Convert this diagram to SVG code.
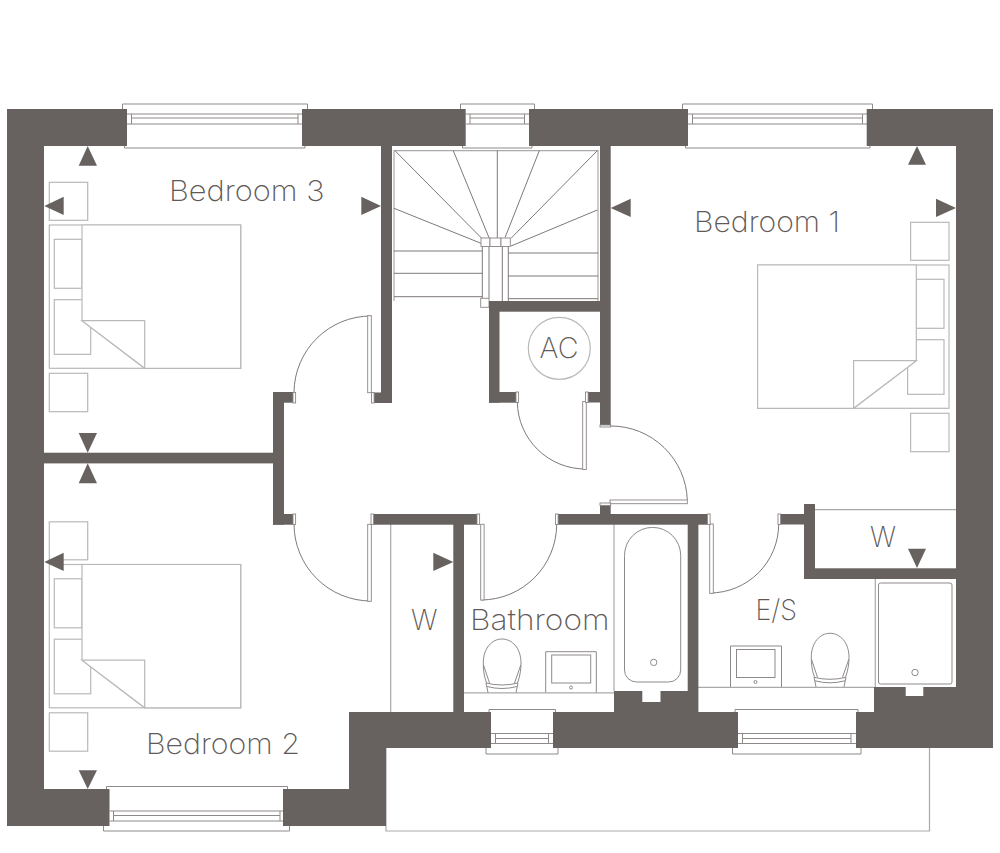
<svg xmlns="http://www.w3.org/2000/svg" xmlns:xlink="http://www.w3.org/1999/xlink" width="1000" height="853" viewBox="0 0 1000 853">
<style>
.w{fill:#676160}
.a{fill:#676160}
.l{fill:none;stroke:#b9b9b9;stroke-width:1.2}
.f{fill:#fff;stroke:#b9b9b9;stroke-width:1.2}
.g{fill:none;stroke:#a9a9a9;stroke-width:1.2}
.d{fill:none;stroke:#6f6a69;stroke-width:.9}
.m{fill:#fff;stroke:#8a8685;stroke-width:.9}
.h{fill:none;stroke:#8e8a89;stroke-width:1}
text{font-family:"Inter","Liberation Sans",sans-serif;font-weight:200;font-size:28.500px;fill:#5f5a59}
</style>
<rect width="1000" height="853" fill="#fff"/>
<g id="balcony"><path class="g" d="M386 748V831H929.500V748"/></g>
<g id="windows">
<g id="window-bedroom-3"><path class="h" d="M122.500 109V104H307.500V109M127 114H302M127 124H302M131.500 114V124M298 114V124M131.500 118H298M124.500 146V148H305V146"/></g>
<g id="window-stair"><path class="h" d="M460.500 109V104H534.500V109M466 114H529M466 124H529M470 114V124M524.500 114V124M470 118H524.500M462.500 146V148H532V146"/></g>
<g id="window-bedroom-1"><path class="h" d="M682.500 109V104H872.500V109M688 114H867M688 124H867M692.500 114V124M862.500 114V124M692.500 118H862.500M685.500 146V148H870V146"/></g>
<g id="window-bathroom"><path class="h" d="M489 712V709.500H555.500V712M491 733.500H553M491 743.500H553M495.500 733.500V743.500M548.500 733.500V743.500M495.500 738.500H548.500M486 748V754H558V748"/></g>
<g id="window-ensuite"><path class="h" d="M735 712V709.500H858V712M738 733.500H856M738 743.500H856M742.500 733.500V743.500M851 733.500V743.500M742.500 738.500H851M732.500 748V754H861V748"/></g>
<g id="window-bedroom-2"><path class="h" d="M106.500 789V786.500H287.500V789M109.500 811H283M109.500 821H283M113.500 811V821M280 811V821M113.500 815.500H280M103.500 826V831H289.500V826"/></g>
</g>
<defs>
<g id="toilet">
<path class="h" d="M486.500 683C483.500 675 483.300 668 483.300 663C483.300 648 492 639 502 639C512 639 521 648 521 663C521 668 520.500 675 517.500 683"/>
<path class="h" d="M483.500 665L489.500 683M520.800 665L514.500 683M486 683Q502 687 518 683M487 686.500Q502 690.500 517 686.500M488 692.500L486 683M516 692.500L518 683"/>
</g>
<g id="bed">
<rect class="l" x="49.300" y="225" width="191.400" height="143.300"/>
<rect class="l" x="54.300" y="239.300" width="27.700" height="49"/>
<rect class="l" x="54.300" y="299.700" width="36.400" height="54.600"/>
<path class="f" d="M82 225H240.700V368.300H144.700L82 320.700Z"/>
<path class="f" d="M82 320.700H144.700V368.300Z"/>
<rect class="l" x="49.300" y="182.300" width="38.400" height="38"/>
<rect class="l" x="49.300" y="373.300" width="38.400" height="38.400"/>
</g>
</defs>
<g id="fixtures">
<path class="g" d="M390.700 524V712M614 524V691M464 692.800H614M815 509.700H956M698 687.300H874M875.300 579V687"/>
<g id="bath"><path class="h" d="M624.500 555.500A28.100 28.100 0 0 1 680.700 555.500V670A12 12 0 0 1 668.700 682H636.500A12 12 0 0 1 624.500 670Z"/><circle class="h" cx="653.700" cy="662.400" r="3.200"/></g>
<g id="basin-bathroom"><path class="h" d="M545.700 692.500V651.700H596.300V692.500"/><rect class="h" x="551.700" y="655" width="39" height="28"/><circle class="h" cx="571" cy="687.500" r="1.500"/></g>
<g id="toilet-bathroom"><use xlink:href="#toilet" href="#toilet"/></g>
<g id="basin-ensuite"><path class="h" d="M730.500 687V646H781.500V687"/><rect class="h" x="736.500" y="649.500" width="38.500" height="28"/><circle class="h" cx="755.500" cy="682" r="1.500"/></g>
<g id="toilet-ensuite"><use xlink:href="#toilet" href="#toilet" transform="translate(328 -5.700)"/></g>
<g id="shower"><rect class="h" x="878.500" y="583" width="73.500" height="101" rx="2"/><circle class="h" cx="915" cy="672.500" r="3.200"/></g>
</g>
<g id="stairs">
<path class="g" d="M394 301V150.700H598V301"/>
<path class="d" d="M395 150.700L481.700 238.300M453.300 150.700L489 237.700M497.300 150.700V238M539.300 150.700L505 237.700M597.300 150.700L511 238.300M394 208.300L481 243.300M597.300 210L511 246M394 251H482.300M394 273.300H482.300M394 296.700H482.300M508.300 253H598M508.300 276H598M508.300 298.700H598"/>
<path class="d" d="M482.300 246V298M489 246V298M502.300 246V301M508.300 246V301"/>
<rect class="m" x="481" y="238" width="9" height="8.500"/><rect class="m" x="490" y="238" width="11" height="8.500"/><rect class="m" x="501" y="238" width="9.300" height="8.500"/><rect class="m" x="480.700" y="298.300" width="8.300" height="9"/>
</g>
<g id="walls">
<rect class="w" x="7" y="109" width="120" height="37"/><rect class="w" x="302" y="109" width="163.700" height="37"/><rect class="w" x="529" y="109" width="159" height="37"/><rect class="w" x="866.700" y="109" width="126.300" height="37"/>
<rect class="w" x="7" y="109" width="37" height="717"/><rect class="w" x="7" y="789" width="102.500" height="37"/><rect class="w" x="283" y="789" width="103" height="37"/><rect class="w" x="349" y="712" width="37" height="114"/><rect class="w" x="349" y="712" width="142" height="36"/><rect class="w" x="553" y="712" width="185" height="36"/><rect class="w" x="856" y="712" width="137" height="36"/><rect class="w" x="956" y="109" width="37" height="639"/>
<rect class="w" x="381" y="146" width="11" height="257"/><rect class="w" x="373" y="392.500" width="19" height="10.500"/>
<rect class="w" x="600" y="146" width="10.700" height="280"/><rect class="w" x="587" y="392" width="13" height="10.500"/>
<rect class="w" x="489" y="301" width="111" height="10.700"/><rect class="w" x="489" y="301" width="10.500" height="101.700"/><rect class="w" x="489" y="392" width="27.500" height="10.700"/>
<rect class="w" x="273" y="392" width="11" height="132.700"/><rect class="w" x="273" y="392" width="20" height="10.700"/><rect class="w" x="273" y="514" width="20" height="10.700"/>
<rect class="w" x="44" y="452.700" width="229" height="10.700"/>
<rect class="w" x="372.500" y="514" width="104.500" height="10.700"/><rect class="w" x="557.500" y="514" width="150" height="10.700"/><rect class="w" x="600" y="503" width="10.700" height="12"/>
<rect class="w" x="453.300" y="524" width="10.700" height="188"/><rect class="w" x="687.700" y="524" width="10.700" height="188"/>
<rect class="w" x="780" y="514" width="24" height="10.500"/><rect class="w" x="804" y="504" width="11" height="75"/><rect class="w" x="804" y="568.300" width="152" height="10.700"/>
<path class="w" fill-rule="evenodd" d="M614 691H688V712H614ZM642.300 691V702H660.500V691Z"/>
<path class="w" fill-rule="evenodd" d="M874 687H956V712H874ZM905.700 687V696H923.300V687Z"/>
</g>
<g id="doors">
<g id="door-bedroom-3"><path class="d" d="M371 316A77 77 0 0 0 294 392"/><rect class="m" x="367.700" y="315.700" width="3.600" height="77"/><rect class="m" x="293" y="392.500" width="2.600" height="10.500"/><rect class="m" x="371.500" y="392.500" width="2.600" height="10.500"/></g>
<g id="door-bedroom-2"><path class="d" d="M371 601A77 77 0 0 1 294 524"/><rect class="m" x="367.700" y="524.300" width="3.600" height="77"/><rect class="m" x="293" y="514" width="2.600" height="10.500"/><rect class="m" x="371" y="514" width="2.600" height="10.500"/></g>
<g id="door-bathroom"><path class="d" d="M481 600A76 76 0 0 0 556.700 524"/><rect class="m" x="480.700" y="524.300" width="3.400" height="75.700"/><rect class="m" x="477" y="514" width="2.600" height="10.500"/><rect class="m" x="555.500" y="514" width="2.600" height="10.500"/></g>
<g id="door-ensuite"><path class="d" d="M710 593A69 69 0 0 0 778.700 524"/><rect class="m" x="709.700" y="524" width="3.600" height="69.300"/><rect class="m" x="707.500" y="514" width="2.600" height="10.500"/><rect class="m" x="778" y="514" width="2.600" height="10.500"/></g>
<g id="door-cupboard"><path class="d" d="M586 469A68 68 0 0 1 517.300 402"/><rect class="m" x="582.700" y="401.500" width="3.600" height="68"/><rect class="m" x="516" y="392" width="2.600" height="10.500"/><rect class="m" x="585.500" y="392" width="2.600" height="10.500"/></g>
<g id="door-bedroom-1"><path class="d" d="M610.700 426A76.500 76.500 0 0 1 687.300 500"/><rect class="m" x="610" y="500" width="77.300" height="3.700"/><rect class="m" x="600" y="503" width="10.700" height="2.400"/><rect class="m" x="600" y="425" width="10.700" height="2"/></g>
</g>
<g id="bed-bedroom-3"><use xlink:href="#bed" href="#bed"/></g>
<g id="bed-bedroom-2"><use xlink:href="#bed" href="#bed" transform="translate(0 339.500)"/></g>
<g id="bed-bedroom-1"><use xlink:href="#bed" href="#bed" transform="translate(998.300 40) scale(-1 1)"/></g>
<g id="ac"><circle class="l" cx="559.300" cy="348.300" r="31"/><text x="539.500" y="357.700" textLength="39" lengthAdjust="spacingAndGlyphs">AC</text></g>
<g id="arrows">
<path class="a" d="M87.700 146L97 165.700H78.700Z"/><path class="a" d="M44.300 206L63.700 196.700V215Z"/><path class="a" d="M381 206L361.300 196.700V215Z"/>
<path class="a" d="M610.700 208L630.700 198.700V217Z"/><path class="a" d="M917 146L926 164.700H908Z"/><path class="a" d="M956 208L936 198.700V217Z"/>
<path class="a" d="M87.700 452.700L97 433H78.700Z"/><path class="a" d="M87.700 463.300L97 483.300H78.700Z"/><path class="a" d="M44.300 562L63.700 552.700V571Z"/><path class="a" d="M87.700 789L97 770.300H78.700Z"/>
<path class="a" d="M453.300 562L433.300 552.700V571Z"/><path class="a" d="M917 568L926 548.700H908Z"/>
</g>
<g id="labels">
<text x="169" y="201" textLength="155.500" lengthAdjust="spacingAndGlyphs">Bedroom 3</text>
<text x="694" y="232" textLength="146" lengthAdjust="spacingAndGlyphs">Bedroom 1</text>
<text x="146" y="753.700" textLength="154" lengthAdjust="spacingAndGlyphs">Bedroom 2</text>
<text x="470" y="630" textLength="139.500" lengthAdjust="spacingAndGlyphs">Bathroom</text>
<text x="411" y="630" textLength="26.500" lengthAdjust="spacingAndGlyphs">W</text>
<text x="755.500" y="620" textLength="41.500" lengthAdjust="spacingAndGlyphs">E/S</text>
<text x="870" y="547.300" textLength="26" lengthAdjust="spacingAndGlyphs">W</text>
</g>
</svg>
